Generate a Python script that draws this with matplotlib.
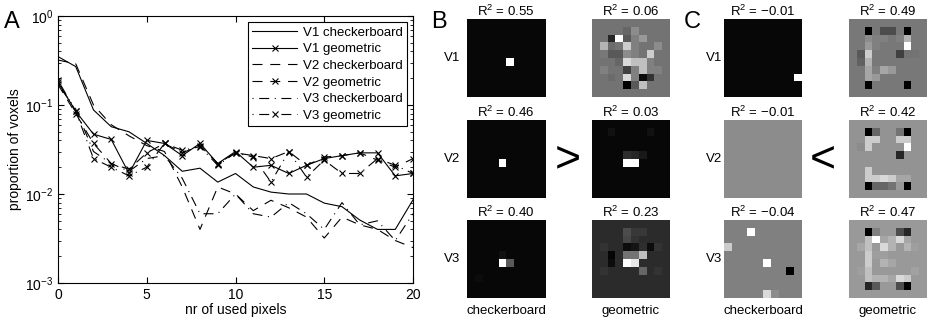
import numpy as np
import matplotlib.pyplot as plt

plt.rcParams['font.family'] = ['Liberation Sans', 'DejaVu Sans']
plt.rcParams['mathtext.fontset'] = 'custom'
plt.rcParams['mathtext.rm'] = 'Liberation Sans'

# ---- panel A data ----
n_pix = np.arange(0, 21)
v1_check = [0.35, 0.27, 0.088, 0.057, 0.05, 0.037, 0.027, 0.018, 0.0195, 0.0136, 0.017,
            0.012, 0.0105, 0.010, 0.010, 0.0079, 0.0072, 0.0051, 0.004, 0.004, 0.0086]
v1_geom = [0.18, 0.085, 0.047, 0.041, 0.017, 0.040, 0.037, 0.027, 0.037, 0.022, 0.030,
           0.020, 0.021, 0.017, 0.021, 0.025, 0.027, 0.029, 0.029, 0.016, 0.017]
v2_check = [0.32, 0.29, 0.10, 0.060, 0.045, 0.035, 0.030, 0.012, 0.004, 0.012, 0.010,
            0.0065, 0.0085, 0.007, 0.0055, 0.0032, 0.0055, 0.0045, 0.004, 0.003, 0.0025]
v2_geom = [0.17, 0.08, 0.037, 0.022, 0.019, 0.029, 0.037, 0.029, 0.035, 0.022, 0.029,
           0.027, 0.025, 0.030, 0.021, 0.026, 0.027, 0.029, 0.024, 0.020, 0.025]
v3_check = [0.17, 0.09, 0.030, 0.022, 0.018, 0.025, 0.027, 0.015, 0.006, 0.006, 0.010,
            0.006, 0.0055, 0.008, 0.006, 0.004, 0.008, 0.0045, 0.005, 0.003, 0.006]
v3_geom = [0.19, 0.085, 0.025, 0.020, 0.016, 0.020, 0.037, 0.031, 0.034, 0.021, 0.029,
           0.026, 0.0136, 0.030, 0.0155, 0.024, 0.017, 0.017, 0.025, 0.021, 0.017]

# ---- panels B / C data: 10x10 weight maps (background + non-background cells) ----
b_r2 = [["0.55", "0.06"], ["0.46", "0.03"], ["0.40", "0.23"]]
c_r2 = [["\u22120.01", "0.49"], ["\u22120.01", "0.42"], ["\u22120.04", "0.47"]]

b_bg = [[0.03, 0.45], [0.03, 0.03], [0.03, 0.17]]
b_cells = [
    [[(5, 5, 1.0)],
     [(1, 4, 0.40), (1, 5, 0.55), (2, 2, 0.15), (2, 3, 1.0), (2, 4, 0.35), (2, 5, 0.50),
      (2, 6, 0.60), (3, 1, 0.70), (3, 2, 0.42), (3, 4, 0.80), (3, 5, 0.50), (3, 8, 0.55),
      (4, 1, 0.47), (4, 2, 0.35), (4, 3, 0.35), (4, 4, 0.55), (4, 5, 0.50), (4, 7, 0.80),
      (5, 3, 0.40), (5, 4, 0.85), (5, 5, 0.75), (5, 6, 0.75), (5, 7, 0.50),
      (6, 1, 0.50), (6, 4, 0.25), (6, 5, 0.50), (6, 6, 0.75), (6, 7, 0.50), (6, 8, 0.50),
      (7, 2, 0.42), (7, 4, 0.85), (7, 5, 0.50), (7, 6, 0.05), (7, 7, 0.20),
      (8, 4, 0.0), (8, 5, 0.35), (8, 6, 0.75)]],
    [[(5, 4, 1.0)],
     [(1, 2, 0.07), (1, 7, 0.07), (4, 4, 0.18), (4, 5, 0.15), (4, 6, 0.10),
      (5, 4, 1.0), (5, 5, 1.0)]],
    [[(5, 4, 1.0), (5, 5, 0.35), (4, 4, 0.07), (7, 1, 0.05)],
     [(1, 4, 0.30), (1, 5, 0.22), (1, 6, 0.22), (2, 4, 0.28), (2, 5, 0.20),
      (3, 1, 0.20), (3, 4, 0.05), (3, 5, 0.08), (3, 6, 0.18), (3, 7, 0.05), (3, 8, 0.20),
      (4, 2, 0.02), (4, 4, 0.45), (4, 5, 0.45), (4, 6, 0.75),
      (5, 2, 0.05), (5, 4, 1.0), (5, 5, 0.90), (6, 1, 0.20), (6, 6, 0.40), (6, 8, 0.20)]],
]

c_bg = [[0.03, 0.47], [0.55, 0.58], [0.50, 0.60]]
c_cells = [
    [[(7, 9, 1.0)],
     [(1, 2, 0.0), (1, 4, 0.30), (1, 5, 0.30), (1, 7, 0.0), (2, 2, 0.55), (2, 3, 0.50),
      (2, 4, 0.50), (2, 6, 0.50), (2, 7, 0.70), (3, 2, 0.60), (3, 3, 0.50), (3, 7, 1.0),
      (4, 1, 0.35), (4, 2, 0.80), (4, 6, 0.25), (4, 7, 0.45), (4, 8, 0.45),
      (5, 1, 0.38), (5, 2, 0.70), (6, 2, 0.65), (6, 3, 0.50), (6, 4, 0.65), (6, 5, 0.60),
      (7, 2, 0.65), (7, 3, 0.60), (8, 2, 0.0), (8, 7, 0.0)]],
    [[],
     [(1, 2, 0.0), (1, 3, 0.40), (1, 6, 0.45), (1, 7, 0.0), (2, 2, 0.80), (2, 3, 0.80),
      (2, 6, 0.80), (2, 7, 0.80), (3, 1, 0.55), (3, 2, 0.80), (3, 7, 1.0), (4, 6, 0.15),
      (6, 2, 0.80), (7, 2, 0.80), (7, 3, 0.80), (7, 4, 0.85), (7, 5, 0.80), (7, 6, 0.65),
      (7, 7, 0.65), (8, 2, 0.0), (8, 3, 0.40), (8, 4, 0.40), (8, 5, 0.45), (8, 6, 0.60),
      (8, 7, 0.0)]],
    [[(1, 3, 1.0), (3, 0, 0.80), (5, 5, 1.0), (6, 8, 0.0), (9, 5, 0.85), (9, 6, 0.55)],
     [(1, 2, 0.0), (1, 3, 0.50), (1, 6, 0.30), (1, 7, 0.15), (2, 2, 0.75), (2, 3, 1.0),
      (2, 4, 0.65), (2, 5, 0.70), (2, 6, 0.85), (2, 7, 0.65), (3, 1, 0.65), (3, 2, 0.75),
      (3, 3, 0.60), (3, 4, 0.85), (3, 5, 0.70), (3, 6, 0.60), (3, 7, 0.70), (3, 8, 0.62),
      (4, 2, 0.80), (4, 3, 0.62), (4, 4, 0.62), (5, 2, 0.80), (5, 3, 0.60), (5, 4, 0.70),
      (5, 5, 0.65), (6, 1, 0.62), (6, 2, 0.75), (6, 8, 0.63), (7, 2, 0.75), (7, 3, 0.70),
      (7, 4, 0.70), (7, 5, 0.65), (7, 6, 0.85), (7, 7, 0.80), (8, 2, 0.15), (8, 3, 0.35),
      (8, 6, 0.30), (8, 7, 0.0)]],
]
areas = ["V1", "V2", "V3"]

W, H = 929, 325
fig = plt.figure(figsize=(W / 100, H / 100), dpi=100)


def box(x0, y0, x1, y1):
    return [x0 / W, 1 - y1 / H, (x1 - x0) / W, (y1 - y0) / H]


# ---- panel A ----
ax = fig.add_axes(box(58, 16, 413, 283))
lw = 0.8
dash = (9, 7)
dashdot = (1, 5, 9, 5)
ax.plot(n_pix, v1_check, '-', color='k', lw=lw, label='V1 checkerboard')
ax.plot(n_pix, v1_geom, '-', color='k', lw=lw, marker='x', ms=5, mew=0.8, label='V1 geometric')
ax.plot(n_pix, v2_check, color='k', lw=lw, dashes=dash, label='V2 checkerboard')
ax.plot(n_pix, v2_geom, color='k', lw=lw, dashes=dash, marker='x', ms=5, mew=0.8, label='V2 geometric')
ax.plot(n_pix, v3_check, color='k', lw=lw, dashes=dashdot, label='V3 checkerboard')
ax.plot(n_pix, v3_geom, color='k', lw=lw, dashes=dashdot, marker='x', ms=5, mew=0.8, label='V3 geometric')
ax.set_yscale('log')
ax.set_xlim(0, 20)
ax.set_ylim(1e-3, 1)
ax.set_xticks([0, 5, 10, 15, 20])
ax.set_yticks([1e-3, 1e-2, 1e-1, 1])
ax.tick_params(which='both', direction='in', top=True, right=True, labelsize=10)
ax.tick_params(which='major', length=4)
ax.tick_params(which='minor', length=2)
ax.set_xlabel('nr of used pixels', fontsize=10, labelpad=1)
ax.set_ylabel('proportion of voxels', fontsize=10, labelpad=2)
leg = ax.legend(loc='upper right', fontsize=9.5, fancybox=False, framealpha=1,
                edgecolor='k', handlelength=3.4, borderpad=0.35, labelspacing=0.33,
                handletextpad=0.4, borderaxespad=0.45)
leg.get_frame().set_linewidth(0.8)
fig.text(4 / W, 1 - 28 / H, 'A', fontsize=17)


def grid(bg, cells):
    g = np.full((10, 10), bg)
    for r, c, v in cells:
        g[r, c] = v
    return g


def panel(letter, lx, xs, rlabel_x, r2, bgs, cells, sym, sym_x):
    fig.text(lx / W, 1 - 28 / H, letter, fontsize=17)
    tops = [19, 120, 220]
    for i, t in enumerate(tops):
        for j, x0 in enumerate(xs):
            a = fig.add_axes(box(x0, t, x0 + 78, t + 78))
            a.imshow(grid(bgs[i][j], cells[i][j]), cmap='gray', vmin=0, vmax=1,
                     interpolation='nearest')
            a.set_xticks([])
            a.set_yticks([])
            for s in a.spines.values():
                s.set_visible(False)
            a.set_title('R$^2$ = ' + r2[i][j], fontsize=9.5, pad=2)
        fig.text(rlabel_x / W, 1 - (t + 39) / H, areas[i], fontsize=9.5,
                 ha='right', va='center')
    fig.text(sym_x / W, 1 - 160 / H, sym, fontsize=32, ha='center', va='center')
    fig.text((xs[0] + 39) / W, 1 - 311 / H, 'checkerboard', fontsize=9.5, ha='center', va='center')
    fig.text((xs[1] + 39) / W, 1 - 311 / H, 'geometric', fontsize=9.5, ha='center', va='center')


panel('B', 431, [467, 592], 460, b_r2, b_bg, b_cells, '>', 568)
panel('C', 684, [724, 849], 722, c_r2, c_bg, c_cells, '<', 823)

fig.savefig('out.png', dpi=100)
